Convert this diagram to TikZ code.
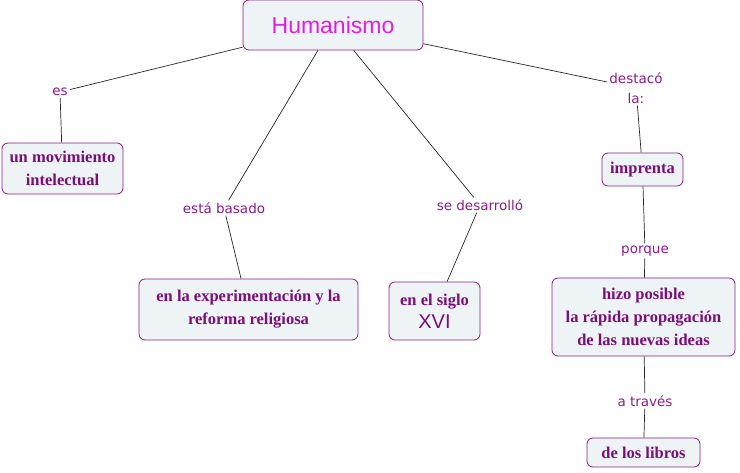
\documentclass[tikz,border=0pt]{standalone}
\usepackage{fontspec}
\setmainfont{Liberation Serif}
\newfontfamily\labfont{DejaVu Sans}
\newfontfamily\titfont{Liberation Sans}
\definecolor{nodetext}{HTML}{7A0F7A}
\definecolor{titlecol}{HTML}{E020E0}
\definecolor{boxborder}{HTML}{8A1C8A}
\definecolor{boxfill}{HTML}{EEF3F5}
\definecolor{labcol}{HTML}{8A1C8A}
\tikzset{
  concept/.style={draw=boxborder, fill=boxfill, rounded corners=6pt, line width=0.8pt,
    text=nodetext, font=\fontsize{16.5}{23}\selectfont\bfseries, align=center, inner sep=0pt},
  linklab/.style={text=labcol, font=\labfont\fontsize{13.5}{20}\selectfont, align=center,
    inner sep=2pt, fill=white},
  conn/.style={draw=black!85, line width=0.7pt}
}
\begin{document}
\begin{tikzpicture}[x=1pt,y=-1pt]
\useasboundingbox (0,0) rectangle (740,472);
% concepts
\node[concept, minimum width=180pt, minimum height=50pt, text=titlecol,
  font=\titfont\fontsize{23}{26}\selectfont] (hum) at (333,25) {Humanismo};
\node[concept, minimum width=121pt, minimum height=51pt] (mov) at (62.5,168.5) {un movimiento\\intelectual};
\node[concept, minimum width=219pt, minimum height=61pt] (exp) at (248.5,309.5) {en la experimentación y la\\reforma religiosa};
\node[concept, minimum width=91pt, minimum height=58pt] (sig) at (434.5,311) {en el siglo\\{\titfont\mdseries\fontsize{20}{22}\selectfont XVI}};
\node[concept, minimum width=81pt, minimum height=33pt] (imp) at (642.5,169.5) {imprenta};
\node[concept, minimum width=183pt, minimum height=78pt] (hiz) at (643.5,317) {hizo posible\\la rápida propagación\\de las nuevas ideas};
\node[concept, minimum width=113pt, minimum height=29pt] (lib) at (643.5,452.5) {de los libros};
% link labels
\node[linklab] (es) at (60,92) {es};
\node[linklab] (bas) at (224,208) {está basado};
\node[linklab] (des) at (480,205) {se desarrolló};
\node[linklab] (dest) at (636,88) {destacó\\la:};
\node[linklab] (por) at (645,251) {porque};
\node[linklab] (tra) at (645,401) {a través};
% connectors
\draw[conn] (hum) -- (es);
\draw[conn] (es) -- (mov);
\draw[conn] (hum) -- (bas);
\draw[conn] (bas) -- (exp);
\draw[conn] (hum) -- (des);
\draw[conn] (des) -- (sig);
\draw[conn] (hum) -- (dest);
\draw[conn] (dest) -- (imp);
\draw[conn] (imp) -- (por);
\draw[conn] (por) -- (hiz);
\draw[conn] (hiz) -- (tra);
\draw[conn] (tra) -- (lib);
\end{tikzpicture}
\end{document}
